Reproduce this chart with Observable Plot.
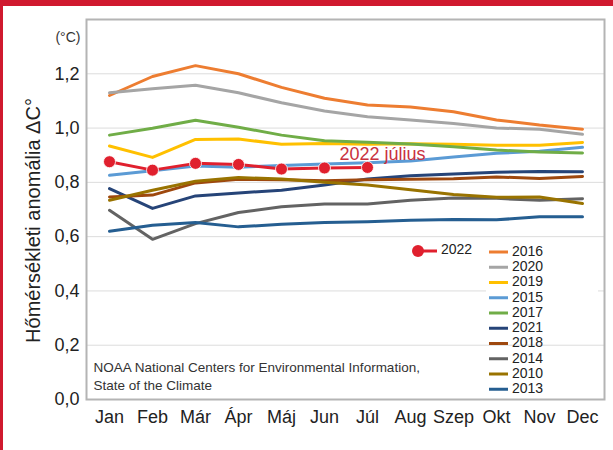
<!DOCTYPE html>
<html>
<head>
<meta charset="utf-8">
<script src="https://cdn.jsdelivr.net/npm/d3@7"></script>
<script src="https://cdn.jsdelivr.net/npm/@observablehq/plot@0.6"></script>
<style>
  html, body { margin: 0; padding: 0; background: white; }
  #wrap { position: relative; width: 613px; height: 450px; }
  #border { position: absolute; left: 0; top: 0; width: 613px; height: 450px; box-sizing: border-box;
            border-top: 6px solid #d0192f; border-left: 3px solid #d0192f; pointer-events: none; }
</style>
</head>
<body>
<div id="wrap"><div id="chart"></div><div id="border"></div></div>
<script>
const months = ["Jan","Feb","Már","Ápr","Máj","Jun","Júl","Aug","Szep","Okt","Nov","Dec"];
const years = ["2016","2020","2019","2015","2017","2021","2018","2014","2010","2013"];
const colors = ["#ED7D31","#A5A5A5","#FFC000","#5B9BD5","#70AD47","#264478","#9E480E","#636363","#997300","#255E91"];
const v2016 = [1.12, 1.19, 1.23, 1.20, 1.15, 1.11, 1.085, 1.078, 1.06, 1.03, 1.011, 0.996];
const v2020 = [1.13, 1.145, 1.158, 1.13, 1.093, 1.063, 1.042, 1.03, 1.017, 1.0, 0.996, 0.977];
const v2019 = [0.934, 0.892, 0.958, 0.960, 0.940, 0.943, 0.940, 0.942, 0.940, 0.937, 0.937, 0.947];
const v2015 = [0.826, 0.843, 0.860, 0.856, 0.862, 0.868, 0.872, 0.879, 0.893, 0.907, 0.915, 0.929];
const v2017 = [0.974, 0.999, 1.029, 1.003, 0.974, 0.953, 0.948, 0.941, 0.931, 0.919, 0.912, 0.908];
const v2021 = [0.777, 0.704, 0.750, 0.761, 0.771, 0.790, 0.812, 0.824, 0.831, 0.837, 0.840, 0.839];
const v2018 = [0.746, 0.753, 0.798, 0.811, 0.810, 0.806, 0.810, 0.811, 0.813, 0.820, 0.814, 0.822];
const v2014 = [0.697, 0.590, 0.648, 0.689, 0.710, 0.720, 0.720, 0.734, 0.742, 0.741, 0.734, 0.740];
const v2010 = [0.734, 0.771, 0.804, 0.818, 0.812, 0.800, 0.790, 0.773, 0.755, 0.745, 0.746, 0.722];
const v2013 = [0.620, 0.642, 0.652, 0.636, 0.646, 0.652, 0.655, 0.660, 0.663, 0.662, 0.673, 0.673];
const v2022 = [0.876, 0.845, 0.870, 0.866, 0.849, 0.853, 0.855];
const year2022 = "2022";
const color2022 = "#e0202e";
const yTicks = [0, 0.2, 0.4, 0.6, 0.8, 1.0, 1.2];
const yLabel = "Hőmérsékleti anomália ΔC°";
const unitLabel = "(°C)";
const annotation = {month: "Júl", value: 0.905, label: "2022 július"};
const source = "NOAA National Centers for Environmental Information,\nState of the Climate";

const seriesValues = [v2016, v2020, v2019, v2015, v2017, v2021, v2018, v2014, v2010, v2013];
const table = [];
years.forEach((y, i) => seriesValues[i].forEach((v, j) => table.push({year: y, month: months[j], value: v})));
const table2022 = v2022.map((v, j) => ({year: year2022, month: months[j], value: v}));

const font = "'Liberation Sans', Arial, sans-serif";

const chart = Plot.plot({
  width: 613, height: 450,
  marginLeft: 86, marginRight: 9, marginTop: 19, marginBottom: 51,
  style: {fontFamily: font, background: "white", color: "#222"},
  x: {type: "point", domain: months, padding: 0.5, label: null},
  y: {domain: [0, 1.4], label: null},
  color: {domain: [...years, year2022], range: [...colors, color2022]},
  marks: [
    Plot.gridY(yTicks.filter(d => d > 0), {stroke: "#dcdcdc", strokeOpacity: 1, strokeWidth: 1}),
    Plot.frame({stroke: "#b4b4b4", strokeWidth: 2}),
    Plot.axisY(yTicks, {tickSize: 0, tickPadding: 7, fontSize: 18, fill: "#222",
      tickFormat: d => d.toFixed(1).replace(".", ",")}),
    Plot.axisX({tickSize: 0, tickPadding: 11, fontSize: 18, fill: "#222"}),
    Plot.line(table, {x: "month", y: "value", z: "year", stroke: "year", strokeWidth: 3}),
    Plot.line(table2022, {x: "month", y: "value", stroke: "year", strokeWidth: 3}),
    Plot.dot(table2022, {x: "month", y: "value", r: 6, fill: "year", stroke: "white", strokeWidth: 0.8}),
    Plot.text([annotation], {x: "month", y: "value", text: "label", dx: 15, fontSize: 18, fill: "#c9303e"}),
    Plot.text([yLabel], {frameAnchor: "left", textAnchor: "middle", rotate: -90, dx: -53, dy: 11, fontSize: 20, fill: "#222"}),
    Plot.text([unitLabel], {frameAnchor: "top-left", textAnchor: "end", dx: -6, dy: 13, fontSize: 14, fill: "#333"}),
    Plot.text([source], {frameAnchor: "bottom-left", textAnchor: "start", lineAnchor: "bottom", dx: 7, dy: -10,
      lineHeight: 1.28, fontSize: 13.5, fill: "#333"})
  ]
});
document.getElementById("chart").appendChild(chart);

// legend
const svg = d3.select(chart);
const grid = chart.querySelector('[aria-label="y-grid"]');
const bg = document.createElementNS("http://www.w3.org/2000/svg", "rect");
bg.setAttribute("x", 486); bg.setAttribute("y", 262); bg.setAttribute("width", 112); bg.setAttribute("height", 68);
bg.setAttribute("fill", "white");
grid.parentNode.insertBefore(bg, grid.nextSibling);

const lg = svg.append("g").attr("font-family", font).attr("font-size", 14).attr("fill", "#222")
  .attr("text-anchor", "start");
const g22 = lg.append("g");
g22.append("line").attr("x1", 418).attr("x2", 437).attr("y1", 251).attr("y2", 251)
  .attr("stroke", color2022).attr("stroke-width", 3);
g22.append("circle").attr("cx", 418).attr("cy", 251).attr("r", 6).attr("fill", color2022);
g22.append("text").attr("x", 441).attr("y", 249).attr("dy", "0.35em").text(year2022);
years.forEach((y, i) => {
  const yy = 251 + i * 15.25;
  lg.append("line").attr("x1", 489).attr("x2", 508).attr("y1", yy + 1).attr("y2", yy + 1)
    .attr("stroke", colors[i]).attr("stroke-width", 3);
  lg.append("text").attr("x", 512).attr("y", yy).attr("dy", "0.35em").text(y);
});
</script>
</body>
</html>
